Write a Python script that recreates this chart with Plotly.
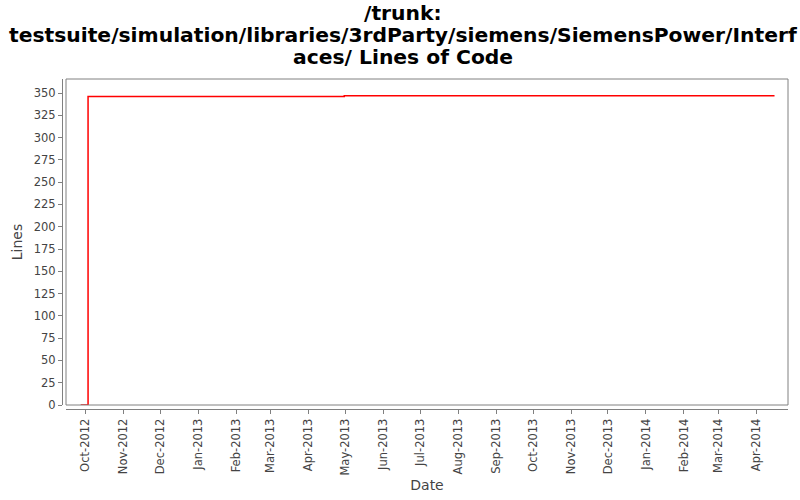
import plotly.graph_objects as go

dates = ["2012-09-27", "2012-10-03", "2013-04-30", "2014-04-16"]
lines = [0, 346, 347, 347]

title_lines = ["/trunk:",
               "testsuite/simulation/libraries/3rdParty/siemens/SiemensPower/Interf",
               "aces/ Lines of Code"]

W, H = 800, 500
ml, mr, mt, mb = 62, 12, 79, 91
pw = W - ml - mr
ph = H - mt - mb
gap = 4

fig = go.Figure()
fig.add_trace(go.Scatter(x=dates, y=lines, mode="lines",
                         line=dict(color="#ff0000", width=1.5, shape="hv"),
                         showlegend=False, hoverinfo="skip"))

font_tick = dict(family="DejaVu Sans", size=11.5, color="#444444")
fig.update_layout(
    width=W, height=H,
    margin=dict(l=ml, r=mr, t=mt, b=mb, pad=0, autoexpand=False),
    paper_bgcolor="white", plot_bgcolor="white",
    xaxis=dict(type="date", domain=[gap / pw, 1], anchor="free", position=0,
               range=["2012-09-15", "2014-04-27"], automargin=False,
               tick0="2012-10-01", dtick="M1", tickformat="%b-%Y",
               tickangle=-90, ticks="outside", ticklen=4, tickcolor="#808080",
               showline=True, linecolor="#808080", linewidth=1,
               showgrid=False, zeroline=False, tickfont=font_tick,
               title=dict(text="Date", font=dict(family="DejaVu Sans", size=14, color="#444444"),
                          standoff=5)),
    yaxis=dict(domain=[gap / ph, 1], anchor="free", position=0,
               range=[0, 365.7], tick0=0, dtick=25, automargin=False,
               ticks="outside", ticklen=4, tickcolor="#808080",
               showline=True, linecolor="#808080", linewidth=1,
               showgrid=False, zeroline=False, tickfont=font_tick,
               title=dict(text="Lines", font=dict(family="DejaVu Sans", size=14, color="#444444"),
                          standoff=6)),
)
fig.add_shape(type="rect", xref="x domain", yref="y domain", x0=0, x1=1, y0=0, y1=1,
              line=dict(color="#808080", width=1), layer="above")

baselines = [18, 40, 62]
for t, b in zip(title_lines, baselines):
    fig.add_annotation(text="<b>%s</b>" % t, xref="paper", yref="paper",
                       x=(403 - ml) / pw, y=(H - mb - (b + 9)) / ph,
                       xanchor="center", yanchor="bottom", showarrow=False,
                       font=dict(family="DejaVu Sans", size=20.3, color="black"))

fig.write_html("out.html", config={"displayModeBar": False},
               post_script="document.body.style.margin='0';")
